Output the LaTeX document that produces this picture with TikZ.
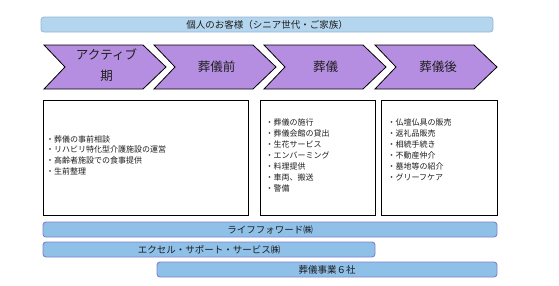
\documentclass[tikz,border=0pt]{standalone}
\usepackage{fontspec}
\setmainfont{Noto Sans CJK JP}
\definecolor{chevfill}{RGB}{181,142,225}
\definecolor{topfill}{RGB}{180,213,238}
\definecolor{topdraw}{RGB}{150,182,215}
\definecolor{barfill}{RGB}{142,192,232}
\definecolor{bardraw}{RGB}{125,130,205}
\definecolor{txt}{RGB}{30,30,30}
\begin{document}
\begin{tikzpicture}[x=1pt,y=-1pt,
  chev/.style={draw=black, line width=0.8pt, fill=chevfill, line join=miter},
  chevtext/.style={font=\fontsize{12.5}{21}\selectfont, text=txt, inner sep=0pt, align=center},
  topbar/.style={draw=topdraw, fill=topfill, line width=0.8pt, rounded corners=3pt, inner sep=0pt,
     font=\fontsize{9.5}{11}\selectfont, text=txt},
  bar/.style={draw=bardraw, fill=barfill, line width=0.9pt, rounded corners=3pt, inner sep=0pt,
     font=\fontsize{9.5}{11}\selectfont, text=txt},
  listbox/.style={draw=black, line width=1pt, fill=white, inner sep=0pt},
  item/.style={font=\fontsize{8}{10}\selectfont, text=txt, inner sep=0pt, anchor=west}
]
\useasboundingbox (0,0) rectangle (559,285);
\fill[white] (0,0) rectangle (559,285);

% top bar
\node[topbar, minimum width=452pt, minimum height=15pt] (cust) at (267,24.5) {個人のお客様（シニア世代・ご家族）};

% chevrons
\foreach \L/\nm in {44/c1,154/c2,264/c3,375/c4}{
  \draw[chev] (\L,45) -- (\L+99,45) -- (\L+122,67) -- (\L+99,89) -- (\L,89) -- (\L+21,67) -- cycle;
}
\node[chevtext] (t1) at (106.5,65.5) {アクティブ\\期};
\node[chevtext] (t2) at (216.5,67) {葬儀前};
\node[chevtext] (t3) at (325.5,67) {葬儀};
\node[chevtext] (t4) at (438,67) {葬儀後};

% boxes
\node[listbox, minimum width=205pt, minimum height=115pt] (b1) at (145.5,157.5) {};
\node[listbox, minimum width=115pt, minimum height=115pt] (b2) at (317.5,157.5) {};
\node[listbox, minimum width=116pt, minimum height=115pt] (b3) at (439,157.5) {};

\node[item] (b1a) at (46,139)   {・葬儀の事前相談};
\node[item] (b1b) at (46,149.7) {・リハビリ特化型介護施設の運営};
\node[item] (b1c) at (46,160.3) {・高齢者施設での食事提供};
\node[item] (b1d) at (46,171)   {・生前整理};

\node[item] (b2a) at (265.5,122.3) {・葬儀の施行};
\node[item] (b2b) at (265.5,133.4) {・葬儀会館の貸出};
\node[item] (b2c) at (265.5,144.5) {・生花サービス};
\node[item] (b2d) at (265.5,155.6) {・エンバーミング};
\node[item] (b2e) at (265.5,166.7) {・料理提供};
\node[item] (b2f) at (265.5,177.8) {・車両、搬送};
\node[item] (b2g) at (265.5,188.9) {・警備};

\node[item] (b3a) at (387.5,122.3) {・仏壇仏具の販売};
\node[item] (b3b) at (387.5,133.4) {・返礼品販売};
\node[item] (b3c) at (387.5,144.5) {・相続手続き};
\node[item] (b3d) at (387.5,155.6) {・不動産仲介};
\node[item] (b3e) at (387.5,166.7) {・墓地等の紹介};
\node[item] (b3f) at (387.5,177.8) {・グリーフケア};

% bottom bars
\node[bar, minimum width=454pt, minimum height=15pt] (lf) at (270,229.5) {ライフフォワード㈱};
\node[bar, minimum width=332pt, minimum height=15pt] (ex) at (209,249.5) {エクセル・サポート・サービス㈱};
\node[bar, minimum width=340pt, minimum height=15pt] (f6) at (327,269.5) {葬儀事業６社};
\end{tikzpicture}
\end{document}
